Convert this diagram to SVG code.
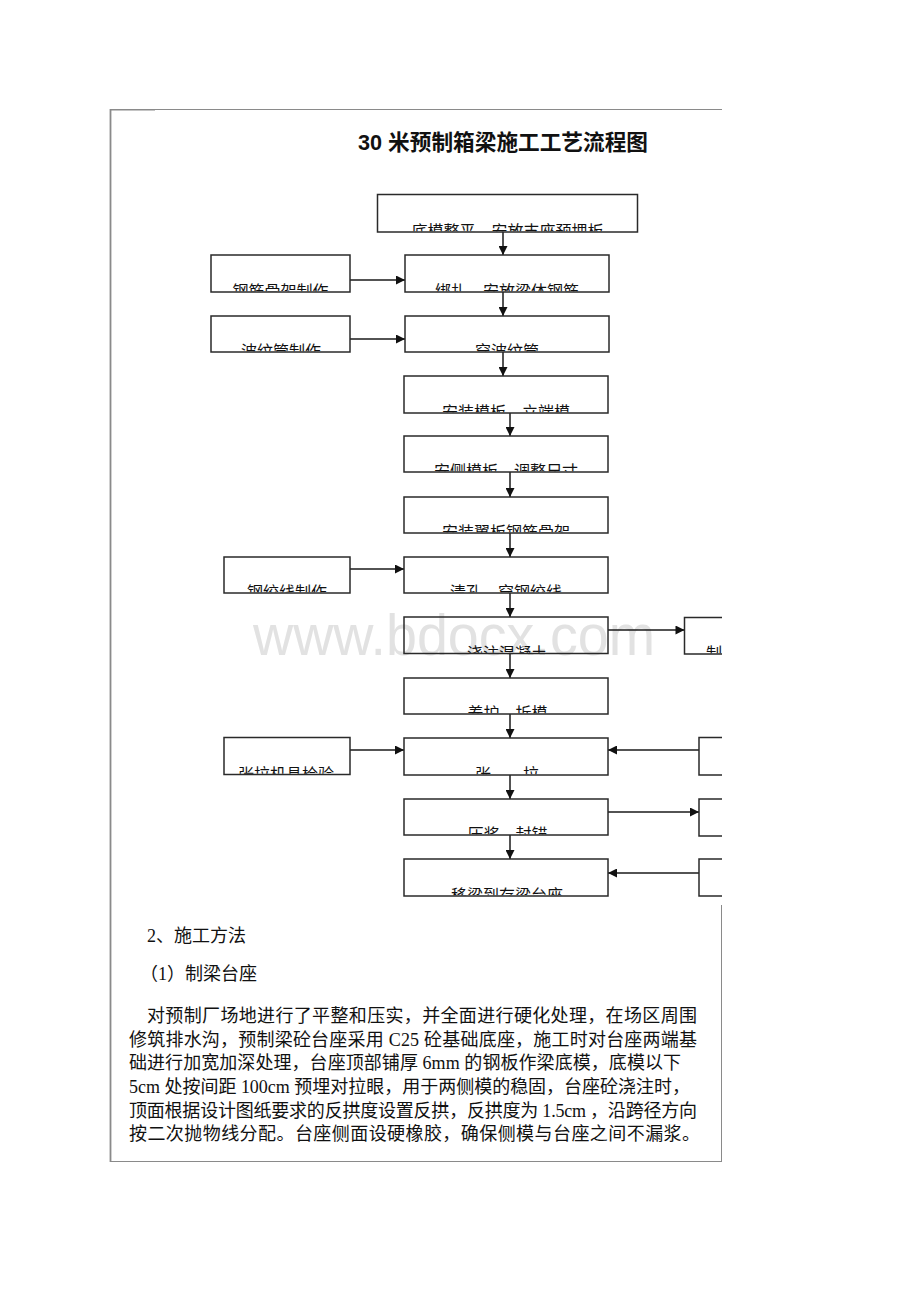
<svg xmlns="http://www.w3.org/2000/svg" width="920" height="1302" viewBox="0 0 920 1302">
<style>
.box{fill:none;stroke:#2a2a2a;stroke-width:1.5}
.lbl{font-family:"Noto Sans CJK SC","Liberation Sans",sans-serif;font-size:16px;fill:#111;text-anchor:middle}
.con{fill:none;stroke:#1a1a1a;stroke-width:1.5}
.body{font-family:"Liberation Serif","Noto Sans CJK SC",serif;font-size:18px;fill:#111}
.frame{fill:none;stroke:#8a8a8a;stroke-width:1}
</style>
<defs>
<marker id="ah" viewBox="0 0 10 10" refX="10" refY="5" markerWidth="11" markerHeight="9" markerUnits="userSpaceOnUse" orient="auto">
<path d="M0,0 L10,5 L0,10 Z" fill="#111"/>
</marker>
<clipPath id="clipBoxes">
<rect x="378" y="195" width="259" height="36.3"/>
<rect x="405.7" y="255.7" width="202.6" height="35.6"/>
<rect x="405.7" y="316.7" width="202.6" height="34.6"/>
<rect x="404.7" y="376.7" width="202.6" height="35.6"/>
<rect x="404.7" y="436.7" width="202.6" height="34.6"/>
<rect x="404.7" y="497.7" width="202.6" height="34.6"/>
<rect x="404.7" y="557.7" width="202.6" height="34.6"/>
<rect x="404.7" y="617.7" width="202.6" height="35.1"/>
<rect x="404.7" y="678.7" width="202.6" height="34.6"/>
<rect x="404.7" y="738.7" width="202.6" height="35.6"/>
<rect x="404.7" y="799.7" width="202.6" height="34.6"/>
<rect x="404.7" y="859.7" width="202.6" height="35.6"/>
<rect x="211.7" y="255.7" width="137.6" height="35.6"/>
<rect x="211.7" y="316.7" width="137.6" height="34.6"/>
<rect x="224.7" y="557.7" width="124.6" height="34.6"/>
<rect x="224.7" y="738.2" width="124.6" height="35.6"/>
<rect x="685.2" y="618.2" width="36.8" height="35.1"/>
</clipPath>
</defs>
<rect width="920" height="1302" fill="#ffffff"/>

<g id="frame">
<line class="frame" x1="110" y1="109.5" x2="722" y2="109.5"/>
<line x1="110" y1="109.8" x2="155" y2="109.8" stroke="#8a8a8a" stroke-width="1.6"/>
<line x1="110.5" y1="109" x2="110.5" y2="1162" stroke="#8a8a8a" stroke-width="1.8"/>
<line class="frame" x1="110" y1="1161.5" x2="722" y2="1161.5"/>
<line class="frame" x1="721.5" y1="905" x2="721.5" y2="1162"/>
</g>

<g id="watermark">
<text x="253" y="655" font-family="Liberation Sans,Arial,sans-serif" font-size="58" fill="#e2e2e2" textLength="402" lengthAdjust="spacingAndGlyphs">www.bdocx.com</text>
</g>

<g id="title">
<text x="358" y="150" font-family="Liberation Sans,&quot;Noto Sans CJK SC&quot;,sans-serif" font-size="22" font-weight="bold" fill="#111" textLength="290" lengthAdjust="spacingAndGlyphs">30 米预制箱梁施工工艺流程图</text>
</g>

<g id="connectors">
<line class="con" x1="503" y1="232" x2="503" y2="255" marker-end="url(#ah)"/>
<line class="con" x1="503" y1="292" x2="503" y2="316" marker-end="url(#ah)"/>
<line class="con" x1="503" y1="352" x2="503" y2="376" marker-end="url(#ah)"/>
<line class="con" x1="510" y1="413" x2="510" y2="436" marker-end="url(#ah)"/>
<line class="con" x1="510" y1="472" x2="510" y2="497" marker-end="url(#ah)"/>
<line class="con" x1="510" y1="533" x2="510" y2="557" marker-end="url(#ah)"/>
<line class="con" x1="510" y1="593" x2="510" y2="617" marker-end="url(#ah)"/>
<line class="con" x1="510" y1="653.5" x2="510" y2="678" marker-end="url(#ah)"/>
<line class="con" x1="510" y1="714" x2="510" y2="738" marker-end="url(#ah)"/>
<line class="con" x1="510" y1="775" x2="510" y2="799" marker-end="url(#ah)"/>
<line class="con" x1="510" y1="835" x2="510" y2="859" marker-end="url(#ah)"/>
<line class="con" x1="350" y1="280" x2="405" y2="280" marker-end="url(#ah)"/>
<line class="con" x1="350" y1="339" x2="405" y2="339" marker-end="url(#ah)"/>
<line class="con" x1="350" y1="569" x2="404" y2="569" marker-end="url(#ah)"/>
<line class="con" x1="350" y1="750" x2="404" y2="750" marker-end="url(#ah)"/>
<line class="con" x1="608" y1="630" x2="684.5" y2="630" marker-end="url(#ah)"/>
<line class="con" x1="699" y1="750" x2="608" y2="750" marker-end="url(#ah)"/>
<line class="con" x1="608" y1="812" x2="699" y2="812" marker-end="url(#ah)"/>
<line class="con" x1="699" y1="873" x2="608" y2="873" marker-end="url(#ah)"/>
</g>

<g id="n1"><rect class="box" x="377.5" y="194.5" width="260" height="37.5"/><text class="lbl" x="507.5" y="237" clip-path="url(#clipBoxes)">底模整平、安放支座预埋板</text></g>
<g id="n2"><rect class="box" x="405" y="255" width="204" height="37"/><text class="lbl" x="507" y="297" clip-path="url(#clipBoxes)">绑扎、安放梁体钢筋</text></g>
<g id="n3"><rect class="box" x="405" y="316" width="204" height="36"/><text class="lbl" x="507" y="357" clip-path="url(#clipBoxes)">穿波纹管</text></g>
<g id="n4"><rect class="box" x="404" y="376" width="204" height="37"/><text class="lbl" x="506" y="418" clip-path="url(#clipBoxes)">安装模板、立端模</text></g>
<g id="n5"><rect class="box" x="404" y="436" width="204" height="36"/><text class="lbl" x="506" y="477" clip-path="url(#clipBoxes)">安侧模板、调整尺寸</text></g>
<g id="n6"><rect class="box" x="404" y="497" width="204" height="36"/><text class="lbl" x="506" y="538" clip-path="url(#clipBoxes)">安装翼板钢筋骨架</text></g>
<g id="n7"><rect class="box" x="404" y="557" width="204" height="36"/><text class="lbl" x="506" y="598" clip-path="url(#clipBoxes)">清孔、穿钢绞线</text></g>
<g id="n8"><rect class="box" x="404" y="617" width="204" height="36.5"/><text class="lbl" x="507" y="658.5" clip-path="url(#clipBoxes)">浇注混凝土</text></g>
<g id="n9"><rect class="box" x="404" y="678" width="204" height="36"/><text class="lbl" x="507.5" y="719" clip-path="url(#clipBoxes)">养护、拆模</text></g>
<g id="n10"><rect class="box" x="404" y="738" width="204" height="37"/><text class="lbl" x="507" y="780" clip-path="url(#clipBoxes)">张　　拉</text></g>
<g id="n11"><rect class="box" x="404" y="799" width="204" height="36"/><text class="lbl" x="507.5" y="840" clip-path="url(#clipBoxes)">压浆、封锚</text></g>
<g id="n12"><rect class="box" x="404" y="859" width="204" height="37"/><text class="lbl" x="507" y="901" clip-path="url(#clipBoxes)">移梁到存梁台座</text></g>
<g id="s1"><rect class="box" x="211" y="255" width="139" height="37"/><text class="lbl" x="280.5" y="297" clip-path="url(#clipBoxes)">钢筋骨架制作</text></g>
<g id="s2"><rect class="box" x="211" y="316" width="139" height="36"/><text class="lbl" x="281" y="357" clip-path="url(#clipBoxes)">波纹管制作</text></g>
<g id="s3"><rect class="box" x="224" y="557" width="126" height="36"/><text class="lbl" x="287" y="598" clip-path="url(#clipBoxes)">钢绞线制作</text></g>
<g id="s4"><rect class="box" x="224" y="737.5" width="126" height="37"/><text class="lbl" x="286" y="779.5" clip-path="url(#clipBoxes)">张拉机具检验</text></g>
<g id="r1"><path class="box" d="M722,617.5 H684.5 V654 H722"/><text class="lbl" x="706" y="659" style="text-anchor:start" clip-path="url(#clipBoxes)">制</text></g>
<g id="r2"><path class="box" d="M722,737.5 H699 V775 H722"/></g>
<g id="r3"><path class="box" d="M722,799 H699 V836 H722"/></g>
<g id="r4"><path class="box" d="M722,859 H699 V896 H722"/></g>

<g id="bodytext">
<text class="body" x="147" y="942">2、施工方法</text>
<text class="body" x="140" y="980">（1）制梁台座</text>
<text class="body" x="147" y="1022" textLength="550" lengthAdjust="spacing">对预制厂场地进行了平整和压实，并全面进行硬化处理，在场区周围</text>
<text class="body" x="129" y="1045.5" textLength="568" lengthAdjust="spacing">修筑排水沟，预制梁砼台座采用 C25 砼基础底座，施工时对台座两端基</text>
<text class="body" x="129" y="1069" textLength="552" lengthAdjust="spacing">础进行加宽加深处理，台座顶部铺厚 6mm 的钢板作梁底模，底模以下</text>
<text class="body" x="129" y="1093" textLength="561" lengthAdjust="spacing">5cm 处按间距 100cm 预埋对拉眼，用于两侧模的稳固，台座砼浇注时，</text>
<text class="body" x="129" y="1116.5" textLength="568" lengthAdjust="spacing">顶面根据设计图纸要求的反拱度设置反拱，反拱度为 1.5cm ，沿跨径方向</text>
<text class="body" x="129" y="1140" textLength="571" lengthAdjust="spacing">按二次抛物线分配。台座侧面设硬橡胶，确保侧模与台座之间不漏浆。</text>
</g>
</svg>
